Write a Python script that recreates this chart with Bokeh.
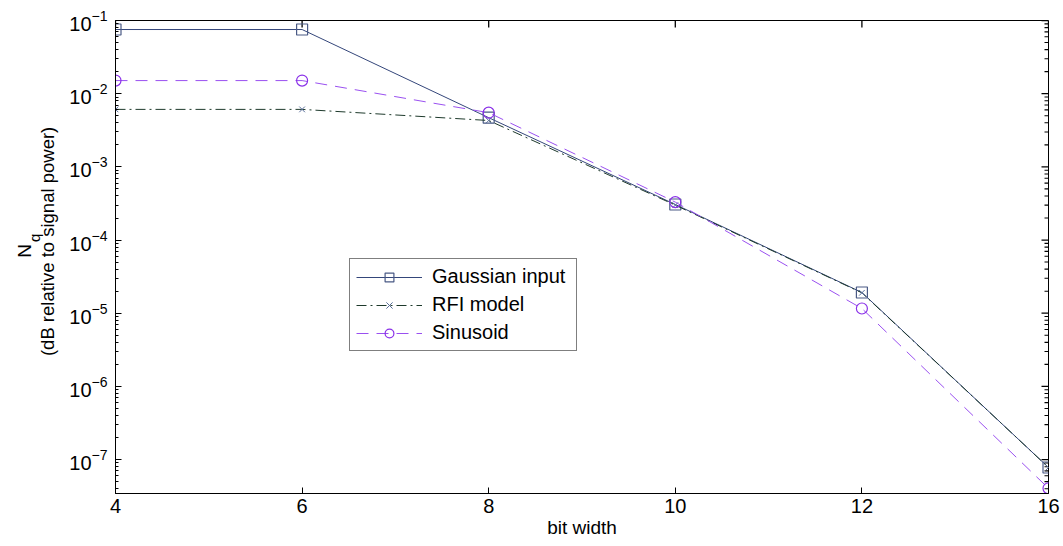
import math
from bokeh.plotting import figure
from bokeh.layouts import row
from bokeh.models import Range1d, FixedTicker
from bokeh.core.properties import value
from bokeh.embed import file_html
from bokeh.resources import INLINE

# ---- data ----
bit_widths = ["4", "6", "8", "10", "12", "16"]
gaussian = [0.0753, 0.0753, 4.7e-3, 3.06e-4, 1.92e-5, 7.8e-8]
rfi = [6.1e-3, 6.1e-3, 4.3e-3, 3.0e-4, 1.9e-5, 7.8e-8]
sinusoid = [0.0151, 0.0151, 5.5e-3, 3.3e-4, 1.16e-5, 4.05e-8]
series_names = ["Gaussian input", "RFI model", "Sinusoid"]
y_major = [1e-7, 1e-6, 1e-5, 1e-4, 1e-3, 1e-2, 1e-1]
y_min, y_max = 3.44e-8, 1e-1
y_label = "(dB relative to signal power)"
x_label = "bit width"

xs = list(range(len(bit_widths)))
x_end = len(bit_widths) - 1
FONT = "Liberation Sans"
H = 546
LW = 60            # width of the side strip holding the y label
PW = 1063 - LW     # main figure width
BL, BR, BT, BB = 55, 15, 20, 53

# ---- side strip with the y-axis label (N_q + units) ----
lab = figure(width=LW, height=H, output_backend="svg", toolbar_location=None,
             x_range=Range1d(0, LW), y_range=Range1d(0, H),
             x_axis_location=None, y_axis_location=None,
             min_border=0, outline_line_color=None)
lab.background_fill_color = "white"
lab.border_fill_color = "white"
lab.xgrid.visible = False
lab.ygrid.visible = False
lab.text(x=[47], y=[H - 255], text=[y_label], angle=math.pi / 2,
         text_align="center", text_baseline="middle",
         text_font=value(FONT), text_font_size="18.5px", text_color="black")
lab.text(x=[24], y=[H - 266], text=["N"], angle=math.pi / 2,
         text_align="center", text_baseline="middle",
         text_font=value(FONT), text_font_size="19px", text_color="black")
lab.text(x=[34], y=[H - 251], text=["q"], angle=math.pi / 2,
         text_align="center", text_baseline="middle",
         text_font=value(FONT), text_font_size="15px", text_color="black")

# ---- main plot ----
p = figure(width=PW, height=H, output_backend="svg", toolbar_location=None,
           y_axis_type="log", x_range=Range1d(0, x_end),
           y_range=Range1d(y_min, y_max),
           min_border_left=BL, min_border_right=BR, min_border_top=BT, min_border_bottom=BB)
p.background_fill_color = "white"
p.border_fill_color = "white"
p.outline_line_color = "black"
p.outline_line_width = 1
p.xgrid.visible = False
p.ygrid.visible = False

minor = []
for m in y_major[:-1]:
    for k in range(2, 10):
        minor.append(m * k)
for k in range(4, 10):
    minor.append(1e-8 * k)

xa = p.xaxis[0]
xa.ticker = FixedTicker(ticks=xs, minor_ticks=[])
xa.major_label_overrides = {i: b for i, b in enumerate(bit_widths)}
xa.axis_label = x_label
xa.major_tick_in = 6
xa.major_tick_out = 0
xa.minor_tick_in = 0
xa.minor_tick_out = 0
xa.major_label_text_font = FONT
xa.major_label_text_font_size = "20px"
xa.major_label_text_color = "black"
xa.major_label_standoff = 5
xa.axis_label_text_font = FONT
xa.axis_label_text_font_size = "19px"
xa.axis_label_text_font_style = "normal"
xa.axis_label_text_color = "black"
xa.axis_label_standoff = 1
xa.axis_line_color = "black"
xa.major_tick_line_color = "black"

ya = p.yaxis[0]
ya.ticker = FixedTicker(ticks=y_major, minor_ticks=minor)
ya.major_tick_in = 6
ya.major_tick_out = 0
ya.minor_tick_in = 3
ya.minor_tick_out = 0
ya.major_label_text_font = FONT
ya.major_label_text_font_size = "20px"
ya.major_label_text_color = "black"
ya.major_label_standoff = 8
ya.axis_line_color = "black"
ya.major_tick_line_color = "black"
ya.minor_tick_line_color = "black"

# mirrored inward ticks on right and top edges (lengths in pixels -> data units)
frame_w = PW - BL - BR
frame_h = H - BT - BB
ux = x_end / frame_w
ppd = frame_h / math.log10(y_max / y_min)
p.segment(x0=[x_end] * len(y_major), y0=y_major, x1=[x_end - 7 * ux] * len(y_major), y1=y_major,
          line_color="black", line_width=1.3)
p.segment(x0=[x_end] * len(minor), y0=minor, x1=[x_end - 4 * ux] * len(minor), y1=minor,
          line_color="black", line_width=1.1)
p.segment(x0=xs, y0=[y_max] * len(xs), x1=xs, y1=[y_max / 10 ** (7 / ppd)] * len(xs),
          line_color="black", line_width=1.3)

# series
p.line(xs, gaussian, line_color="#34467a", line_width=1, legend_label=series_names[0])
p.scatter(xs, gaussian, marker="square", size=11, fill_color=None, line_color="#4a5a85",
          line_width=1.2, legend_label=series_names[0])

p.line(xs, rfi, line_color="#1e3a2c", line_width=1, line_dash="10 4 2 4",
       legend_label=series_names[1])
p.scatter(xs, rfi, marker="x", size=8, line_color="#5a6f9a", line_width=1,
          legend_label=series_names[1])

p.line(xs, sinusoid, line_color="#9a50f0", line_width=1, line_dash="12 8",
       legend_label=series_names[2])
p.scatter(xs, sinusoid, marker="circle", size=11, fill_color=None, line_color="#8a30e8",
          line_width=1.2, legend_label=series_names[2])

lg = p.legend[0]
lg.location = (234, 142)
lg.border_line_color = "black"
lg.border_line_width = 1
lg.background_fill_color = "white"
lg.background_fill_alpha = 1
lg.label_text_font = FONT
lg.label_text_font_size = "20px"
lg.label_text_color = "black"
lg.glyph_width = 66
lg.glyph_height = 22
lg.label_height = 22
lg.label_width = 138
lg.spacing = 5
lg.padding = 6
lg.margin = 0
lg.label_standoff = 10

layout = row(lab, p, spacing=0)
open("out.html", "w").write(file_html(layout, INLINE))
